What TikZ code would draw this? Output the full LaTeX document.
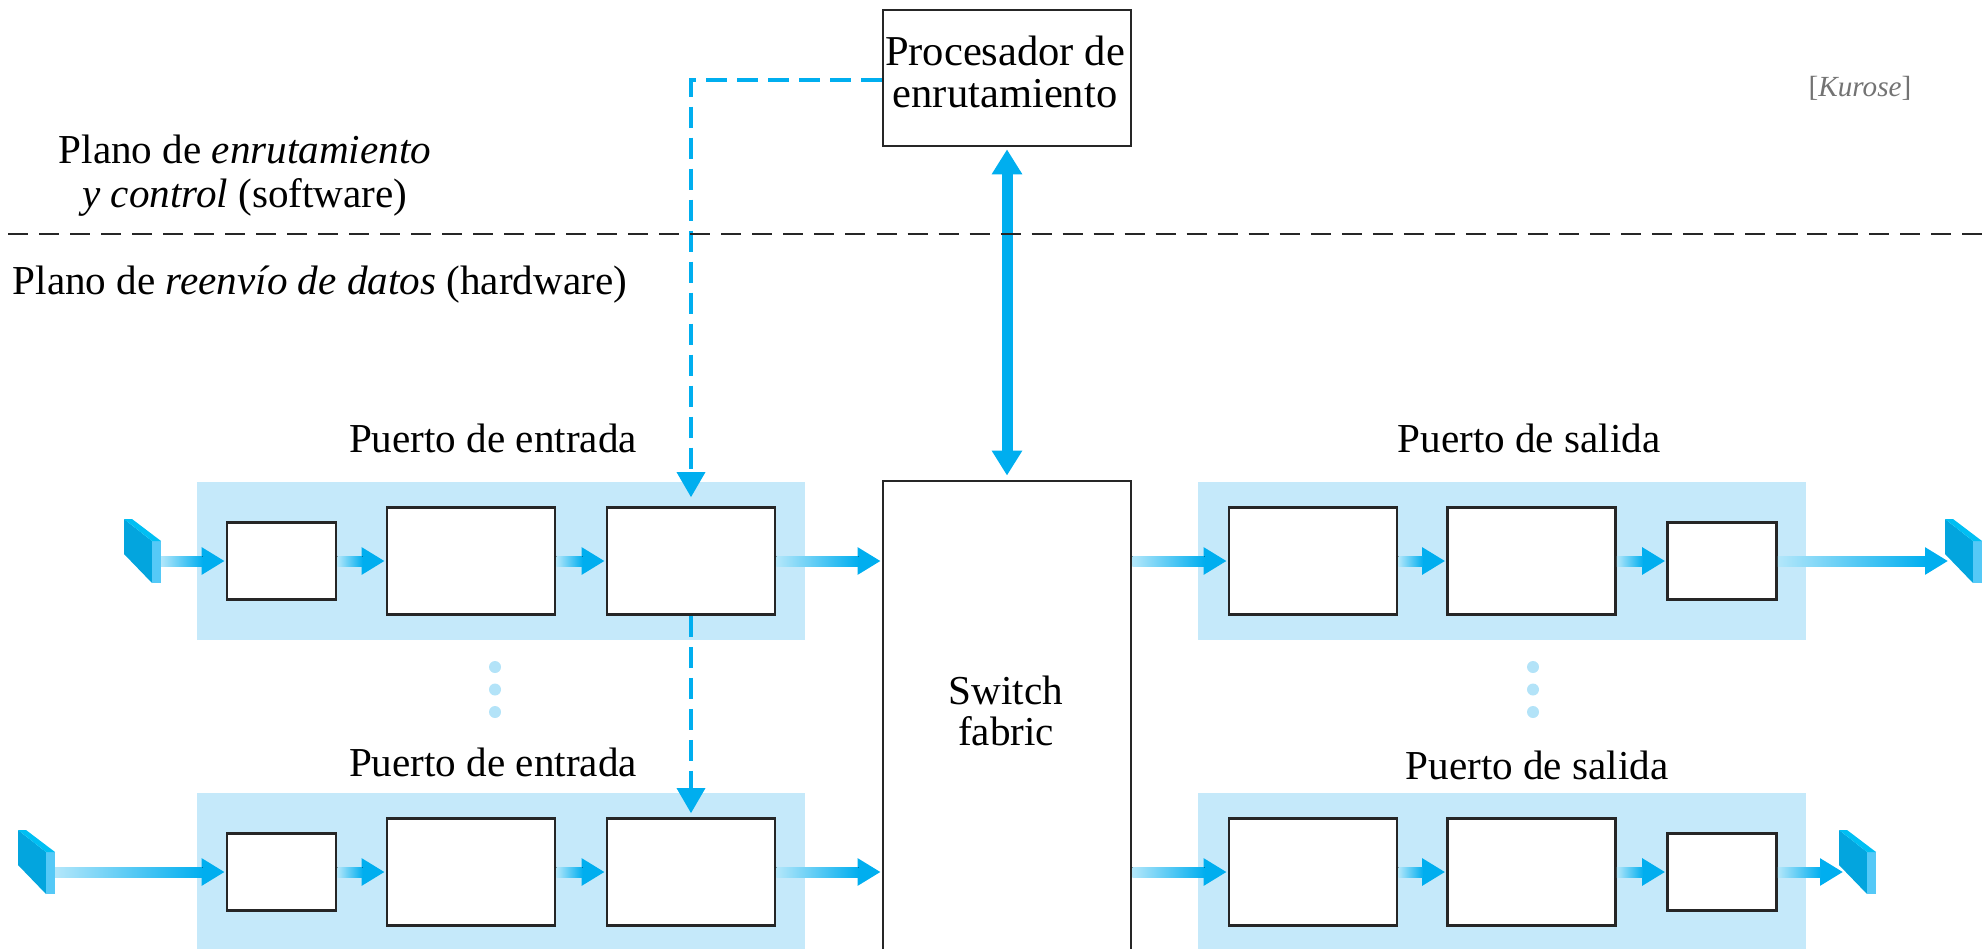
\documentclass[tikz,border=0pt]{standalone}
\usepackage{fontspec}
\setmainfont{Liberation Serif}
\usetikzlibrary{arrows.meta,calc}

\definecolor{azul}{HTML}{00AEEF}
\definecolor{fondo}{HTML}{C5E9FA}
\definecolor{punto}{HTML}{B3E3F8}
\definecolor{cara}{HTML}{03A5DE}
\definecolor{lado}{HTML}{55C9F7}
\definecolor{tapa}{HTML}{00BFF3}

\tikzset{
    caja/.style={draw=black!85, line width=0.75pt, fill=white, inner sep=0pt},
    chica/.style={caja, minimum width=1.09cm, minimum height=0.77cm},
    grande/.style={caja, minimum width=1.68cm, minimum height=1.07cm},
    puerto/.style={fill=fondo, inner sep=0pt},
    texto/.style={font=\fontsize{11.7}{11.7}\selectfont, align=center, inner sep=0pt},
    flecha/.style={azul, line width=0.1cm,
        -{Triangle[length=0.23cm,width=0.26cm]}},
    control/.style={azul, line width=1pt, dash pattern=on 0.21cm off 0.1cm,
        -{Triangle[length=0.25cm,width=0.28cm]}},
    punteado/.style={fill=punto, circle, minimum size=0.12cm, inner sep=0pt}
}

\newcommand{\gradflecha}[2]{%
    \draw[flecha, shorten >=0.01cm] (#1) -- (#2);
    \fill[left color=azul!30, right color=azul] ($(#1)+(0,-5)$) rectangle ($(#2)+(-23,5)$);
}
\newcommand{\emisor}[2]{%
    \begin{scope}[shift={(#1,#2)}]
        \fill[cara] (0,0) -- (28,22) -- (28,64) -- (0,35) -- cycle;
        \fill[lado] (28,22) -- (37,22) -- (37,64) -- (28,64) -- cycle;
        \fill[tapa] (0,0) -- (8,0) -- (37,22) -- (28,22) -- cycle;
    \end{scope}
}

\begin{document}
\begin{tikzpicture}[x=0.01cm,y=-0.01cm]
    \useasboundingbox (0,0) rectangle (1984,948);
    \clip (0,0) rectangle (1984,948);

    %% Port backgrounds
    \node[puerto, minimum width=6.08cm, minimum height=1.58cm] (inport1) at (501,561) {};
    \node[puerto, minimum width=6.08cm, minimum height=1.58cm] (inport2) at (501,872) {};
    \node[puerto, minimum width=6.08cm, minimum height=1.58cm] (outport1) at (1502,561) {};
    \node[puerto, minimum width=6.08cm, minimum height=1.58cm] (outport2) at (1502,872) {};

    %% Central boxes
    \node[caja, minimum width=2.48cm, minimum height=1.36cm] (procesador) at (1007,78) {};
    \node[texto, font=\fontsize{12.1}{11.7}\selectfont] (procesadortxt) at (1005,72) {Procesador de\\enrutamiento};
    \node[caja, minimum width=2.48cm, minimum height=4.8cm] (fabric) at (1007,721) {};
    \node[texto] (fabrictxt) at (1006,711) {Switch\\fabric};

    %% Input ports
    \node[chica] (ina1) at (281.5,561) {};
    \node[grande] (inb1) at (471,561) {};
    \node[grande] (inc1) at (691,561) {};
    \node[chica] (ina2) at (281.5,872) {};
    \node[grande] (inb2) at (471,872) {};
    \node[grande] (inc2) at (691,872) {};

    %% Output ports
    \node[grande] (outa1) at (1313,561) {};
    \node[grande] (outb1) at (1531.5,561) {};
    \node[chica] (outc1) at (1722,561) {};
    \node[grande] (outa2) at (1313,872) {};
    \node[grande] (outb2) at (1531.5,872) {};
    \node[chica] (outc2) at (1722,872) {};

    %% Line ends
    \emisor{124}{519}
    \emisor{18}{830}
    \emisor{1945}{519}
    \emisor{1839}{830}
    \coordinate (src1) at (161,561);
    \coordinate (src2) at (55,872);
    \coordinate (dst1) at (1949,561);
    \coordinate (dst2) at (1844,872);
    \coordinate (ctrl) at ($(procesador.west)+(0,2)$);

    %% Datapath
    \gradflecha{src1}{ina1.west}
    \gradflecha{ina1.east}{inb1.west}
    \gradflecha{inb1.east}{inc1.west}
    \gradflecha{inc1.east}{inc1.east -| fabric.west}
    \gradflecha{src2}{ina2.west}
    \gradflecha{ina2.east}{inb2.west}
    \gradflecha{inb2.east}{inc2.west}
    \gradflecha{inc2.east}{inc2.east -| fabric.west}
    \gradflecha{fabric.east |- outa1.west}{outa1.west}
    \gradflecha{outa1.east}{outb1.west}
    \gradflecha{outb1.east}{outc1.west}
    \gradflecha{outc1.east}{dst1}
    \gradflecha{fabric.east |- outa2.west}{outa2.west}
    \gradflecha{outa2.east}{outb2.west}
    \gradflecha{outb2.east}{outc2.west}
    \gradflecha{outc2.east}{dst2}

    %% Control
    \draw[azul, line width=0.11cm, {Triangle[length=0.25cm,width=0.29cm]}-{Triangle[length=0.25cm,width=0.29cm]},
        shorten <=0.02cm, shorten >=0.04cm] (procesador.south) -- (fabric.north);
    \draw[control, shorten >=0.09cm] (ctrl) -| (inc1.north);
    \draw[control, shorten >=0.04cm] (inc1.south) -- (inc2.north);

    %% Dots
    \foreach \y in {667,689.5,712} {
        \node[punteado] at (495,\y) {};
        \node[punteado] at (1533,\y) {};
    }

    %% Labels
    \node[texto, anchor=base] (inlabel1) at (493,452) {Puerto de entrada};
    \node[texto, anchor=base] (inlabel2) at (493,776) {Puerto de entrada};
    \node[texto, anchor=base] (outlabel1) at (1529,452) {Puerto de salida};
    \node[texto, anchor=base] (outlabel2) at (1537,779) {Puerto de salida};
    \node[texto, font=\fontsize{11.7}{12.5}\selectfont] (ctrlplano) at (245,176) {Plano de \emph{enrutamiento}\\\emph{y control} (software)};
    \node[texto, anchor=base west] (datosplano) at (12,294) {Plano de \emph{reenvío de datos} (hardware)};
    \node[texto, anchor=base, font=\fontsize{8.3}{10}\selectfont, text=black!55] (fuente) at (1860,96) {[\emph{Kurose}]};

    %% Plane separator
    \coordinate (sepl) at (8,234);
    \coordinate (sepr) at (1984,234);
    \draw[black!85, line width=0.7pt, dash pattern=on 0.2cm off 0.11cm] (sepl) -- (sepr);
\end{tikzpicture}
\end{document}
